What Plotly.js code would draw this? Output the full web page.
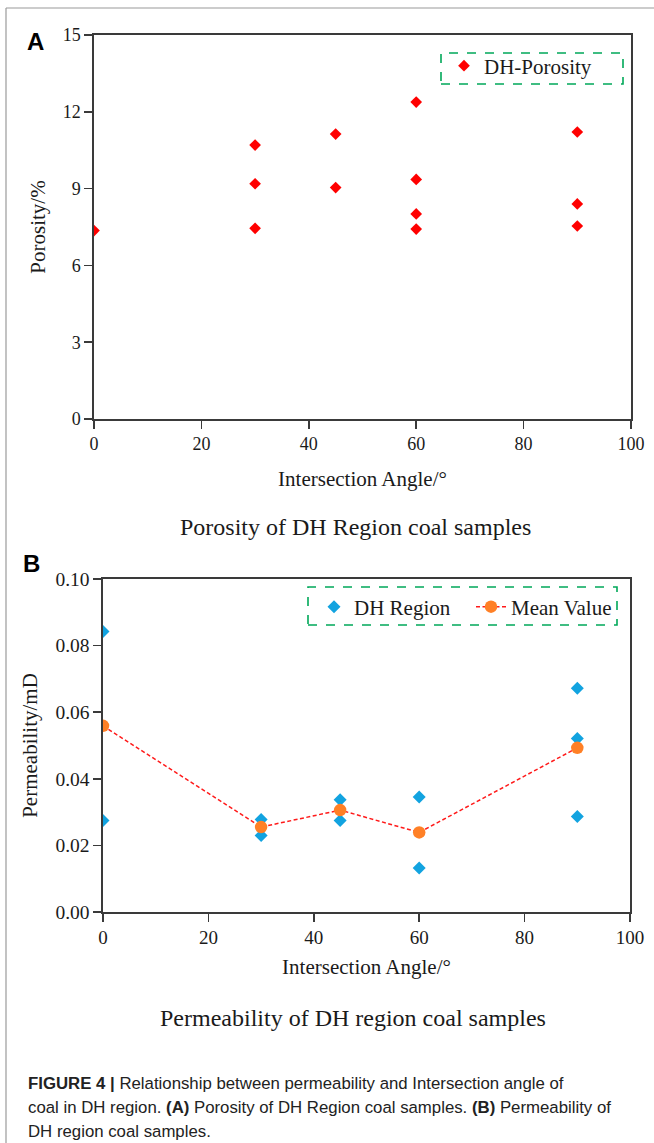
<!DOCTYPE html>
<html><head><meta charset="utf-8">
<script src="https://cdn.plot.ly/plotly-3.0.1.min.js"></script>
<style>html,body{margin:0;padding:0;background:#fff}</style>
</head><body><div id="chart" style="width:654px;height:1143px"></div>
<script>
// ---- data ----
const anglesA = [0, 30, 30, 30, 45, 45, 60, 60, 60, 60, 90, 90, 90];
const porosity = [7.36, 10.70, 9.19, 7.45, 11.13, 9.04, 12.38, 9.36, 8.01, 7.42, 11.21, 8.40, 7.54];
const anglesB = [0, 0, 30, 30, 45, 45, 60, 60, 90, 90, 90];
const permeability = [0.0842, 0.0275, 0.0278, 0.0230, 0.0337, 0.0275, 0.0345, 0.0132, 0.0672, 0.0521, 0.0287];
const meanAngles = [0, 30, 45, 60, 90];
const meanPerm = [0.0559, 0.0255, 0.0306, 0.0239, 0.0493];
const xTicks = [0, 20, 40, 60, 80, 100];
const yTicksA = [0, 3, 6, 9, 12, 15];
const yTicksB = [0, 0.02, 0.04, 0.06, 0.08, 0.10];
const yTickTextB = ['0.00', '0.02', '0.04', '0.06', '0.08', '0.10'];
const captionLines = [
  '<b>FIGURE 4 |</b> Relationship between permeability and Intersection angle of',
  'coal in DH region. <b>(A)</b> Porosity of DH Region coal samples. <b>(B)</b> Permeability of',
  'DH region coal samples.'
];

// ---- layout helpers ----
const W = 654, H = 1143;
const px = v => v / W;
const py = v => 1 - v / H;
const SERIF = 'Liberation Serif, Times New Roman, serif';
const SANS = 'Liberation Sans, Arial, sans-serif';
const AX = '#3a3a3a';

function axisBase(fs) {
  return {
    showline: true, mirror: true, linecolor: AX, linewidth: 1.6,
    ticks: 'outside', ticklen: 8, tickwidth: 1.6, tickcolor: AX,
    showgrid: false, zeroline: false, automargin: false,
    tickfont: {family: SERIF, size: fs, color: '#1a1a1a'}
  };
}

const traces = [
  {x: anglesA, y: porosity, type: 'scatter', mode: 'markers', name: 'DH-Porosity',
   marker: {symbol: 'diamond', size: 9, color: '#ff0000'}, xaxis: 'x', yaxis: 'y', legend: 'legend'},
  {x: anglesB, y: permeability, type: 'scatter', mode: 'markers', name: 'DH Region',
   marker: {symbol: 'diamond', size: 10, color: '#12a3e0'}, xaxis: 'x2', yaxis: 'y2', legend: 'legend2'},
  {x: meanAngles, y: meanPerm, type: 'scatter', mode: 'lines+markers', name: 'Mean Value',
   line: {color: '#ff1a1a', width: 1.5, dash: '4px,2.5px'},
   marker: {symbol: 'circle', size: 12.5, color: '#ff8026'}, xaxis: 'x2', yaxis: 'y2', legend: 'legend2'}
];

const layout = {
  width: W, height: H,
  margin: {l: 0, r: 0, t: 0, b: 0},
  paper_bgcolor: '#fff', plot_bgcolor: '#fff',
  font: {family: SERIF, color: '#1a1a1a'},
  xaxis: Object.assign(axisBase(18), {
    domain: [px(94), px(631)], range: [0, 100], anchor: 'y', tickvals: xTicks,
    title: {text: 'Intersection Angle/°', font: {family: SERIF, size: 21}, standoff: 18}
  }),
  yaxis: Object.assign(axisBase(18), {
    domain: [py(419), py(35)], range: [0, 15], anchor: 'x', tickvals: yTicksA,
    title: {text: 'Porosity/%', font: {family: SERIF, size: 21}, standoff: 11}
  }),
  xaxis2: Object.assign(axisBase(19), {
    domain: [px(103), px(630)], range: [0, 100], anchor: 'y2', tickvals: xTicks,
    title: {text: 'Intersection Angle/°', font: {family: SERIF, size: 21}, standoff: 12}
  }),
  yaxis2: Object.assign(axisBase(19.5), {
    domain: [py(912), py(579)], range: [0, 0.1], anchor: 'x2', tickvals: yTicksB, ticktext: yTickTextB,
    title: {text: 'Permeability/mD', font: {family: SERIF, size: 21}, standoff: 12}
  }),
  legend: {x: px(444), y: py(66), xanchor: 'left', yanchor: 'middle', bgcolor: 'rgba(0,0,0,0)',
           borderwidth: 0, font: {family: SERIF, size: 21}},
  legend2: {orientation: 'h', x: px(314), y: py(607), xanchor: 'left', yanchor: 'middle',
            bgcolor: 'rgba(0,0,0,0)', borderwidth: 0, font: {family: SERIF, size: 21},
            entrywidth: 112, entrywidthmode: 'pixels'},
  shapes: [
    {type: 'rect', xref: 'paper', yref: 'paper', x0: px(441), x1: px(623), y0: py(84), y1: py(53),
     line: {color: '#00a859', width: 1.6, dash: 'dash'}},
    {type: 'rect', xref: 'paper', yref: 'paper', x0: px(308), x1: px(617), y0: py(625), y1: py(587),
     line: {color: '#00a859', width: 1.6, dash: 'dash'}},
    {type: 'line', xref: 'paper', yref: 'paper', x0: px(6), x1: 1, y0: py(8), y1: py(8),
     line: {color: '#9a9a9a', width: 1.2}},
    {type: 'line', xref: 'paper', yref: 'paper', x0: px(6), x1: px(6), y0: py(8), y1: 0,
     line: {color: '#9a9a9a', width: 1.2}}
  ],
  annotations: [
    {text: '<b>A</b>', xref: 'paper', yref: 'paper', x: px(35), y: py(42), xanchor: 'center', yanchor: 'middle',
     showarrow: false, font: {family: SANS, size: 24, color: '#000'}},
    {text: '<b>B</b>', xref: 'paper', yref: 'paper', x: px(31), y: py(563), xanchor: 'center', yanchor: 'middle',
     showarrow: false, font: {family: SANS, size: 24, color: '#000'}},
    {text: 'Porosity of DH Region coal samples', xref: 'paper', yref: 'paper', x: px(355), y: py(527),
     xanchor: 'center', yanchor: 'middle', showarrow: false, font: {family: SERIF, size: 24, color: '#1a1a1a'}},
    {text: 'Permeability of DH region coal samples', xref: 'paper', yref: 'paper', x: px(353), y: py(1018),
     xanchor: 'center', yanchor: 'middle', showarrow: false, font: {family: SERIF, size: 24, color: '#1a1a1a'}},
    {text: captionLines[0], xref: 'paper', yref: 'paper', x: px(26), y: py(1083), xanchor: 'left', yanchor: 'middle',
     showarrow: false, font: {family: SANS, size: 16.8, color: '#222'}},
    {text: captionLines[1], xref: 'paper', yref: 'paper', x: px(26), y: py(1107), xanchor: 'left', yanchor: 'middle',
     showarrow: false, font: {family: SANS, size: 16.8, color: '#222'}},
    {text: captionLines[2], xref: 'paper', yref: 'paper', x: px(26), y: py(1131), xanchor: 'left', yanchor: 'middle',
     showarrow: false, font: {family: SANS, size: 16.8, color: '#222'}}
  ],
  showlegend: true
};

Plotly.newPlot('chart', traces, layout, {staticPlot: true, displayModeBar: false});
</script>
</body></html>
